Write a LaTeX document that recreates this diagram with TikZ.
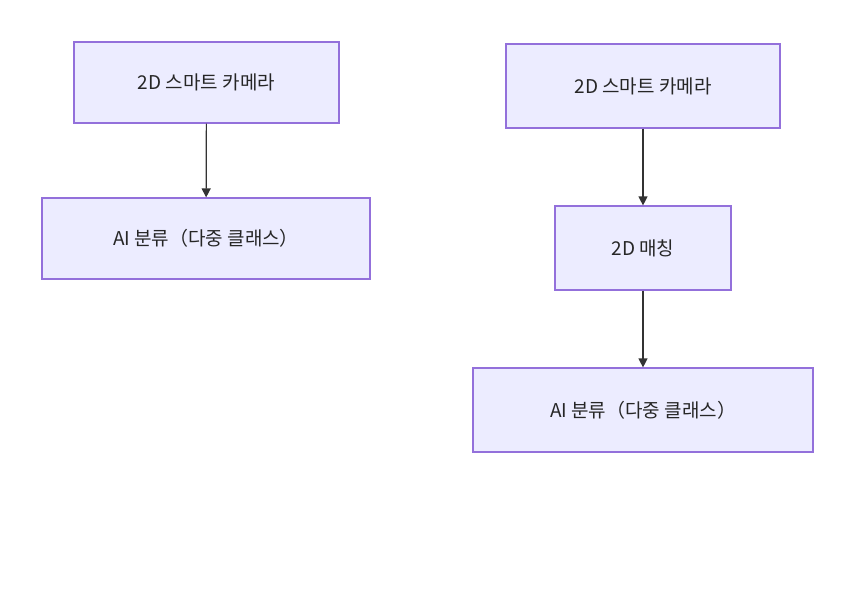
\documentclass[tikz,border=0pt]{standalone}
\usepackage{fontspec}
\setmainfont{Noto Sans CJK KR}
\usetikzlibrary{arrows.meta}
\definecolor{boxfill}{HTML}{ECECFF}
\definecolor{boxline}{HTML}{9370DB}
\definecolor{arr}{HTML}{333333}
\begin{document}
\begin{tikzpicture}[x=1pt,y=-1pt,
  box/.style={draw=boxline,fill=boxfill,line width=1.2pt,inner sep=0pt,font=\fontsize{19}{22}\selectfont,text=black!85},
  conn/.style={draw=arr,line width=1.2pt,-{Triangle[length=9pt,width=9pt]}}]
\useasboundingbox (0,0) rectangle (858,590);
\node[box,minimum width=265pt,minimum height=81pt] (l1) at (206.5,82.5) {2D 스마트 카메라};
\node[box,minimum width=328pt,minimum height=81pt] (l2) at (206,238.5) {AI 분류（다중 클래스）};
\node[box,minimum width=274pt,minimum height=84pt] (r1) at (643,86) {2D 스마트 카메라};
\node[box,minimum width=176pt,minimum height=84pt] (r2) at (643,248) {2D 매칭};
\node[box,minimum width=340pt,minimum height=84pt] (r3) at (643,410) {AI 분류（다중 클래스）};
\draw[conn] (l1) -- (l2);
\draw[conn] (r1) -- (r2);
\draw[conn] (r2) -- (r3);
\end{tikzpicture}
\end{document}
